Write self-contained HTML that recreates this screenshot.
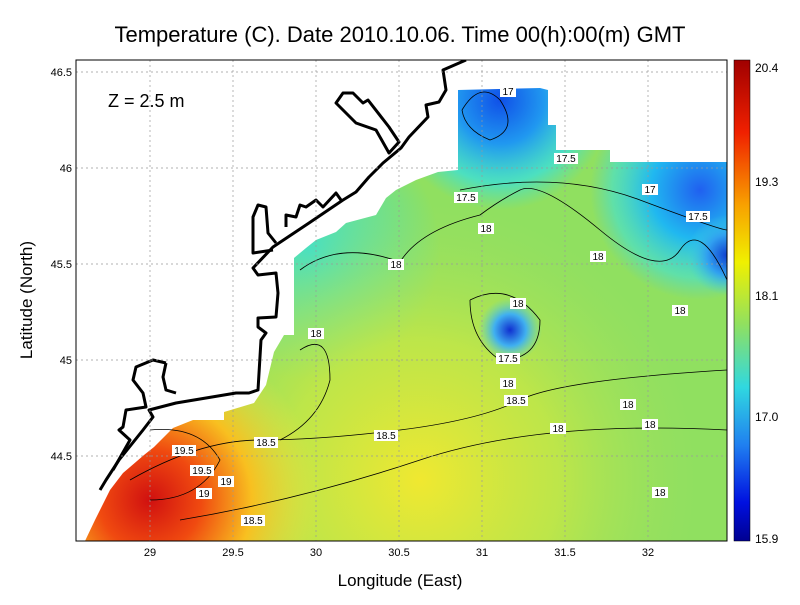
<!DOCTYPE html>
<html><head><meta charset="utf-8"><style>
body{margin:0;background:#fff;}
svg text{font-family:"Liberation Sans",sans-serif;}
</style></head><body>
<svg width="800" height="600" xmlns="http://www.w3.org/2000/svg">
<defs>
<radialGradient id="red" cx="150" cy="500" r="170" gradientUnits="userSpaceOnUse">
<stop offset="0" stop-color="#d01010"/><stop offset="0.3" stop-color="#f04a10"/><stop offset="0.6" stop-color="#f8c020"/><stop offset="1" stop-color="#f0e040" stop-opacity="0"/>
</radialGradient>
<radialGradient id="yel" cx="420" cy="480" r="280" gradientUnits="userSpaceOnUse">
<stop offset="0" stop-color="#f0e830"/><stop offset="0.5" stop-color="#d0e840" stop-opacity="0.7"/><stop offset="1" stop-color="#a0e060" stop-opacity="0"/>
</radialGradient>
<radialGradient id="blueTop" cx="500" cy="100" r="110" gradientUnits="userSpaceOnUse">
<stop offset="0" stop-color="#1050e8"/><stop offset="0.4" stop-color="#2098f0"/><stop offset="0.75" stop-color="#30e0e8" stop-opacity="0.7"/><stop offset="1" stop-color="#40e0d0" stop-opacity="0"/>
</radialGradient>
<radialGradient id="blueR" cx="700" cy="190" r="110" gradientUnits="userSpaceOnUse">
<stop offset="0" stop-color="#2060f0"/><stop offset="0.45" stop-color="#20b8f0"/><stop offset="0.8" stop-color="#40e0d8" stop-opacity="0.6"/><stop offset="1" stop-color="#50d0d0" stop-opacity="0"/>
</radialGradient>
<radialGradient id="blueR2" cx="727" cy="255" r="40" gradientUnits="userSpaceOnUse">
<stop offset="0" stop-color="#1040d0"/><stop offset="0.5" stop-color="#30a0f0"/><stop offset="1" stop-color="#40d0e0" stop-opacity="0"/>
</radialGradient>
<radialGradient id="blueC" cx="510" cy="330" r="32" gradientUnits="userSpaceOnUse">
<stop offset="0" stop-color="#1030d0"/><stop offset="0.5" stop-color="#40b0f0"/><stop offset="1" stop-color="#60d8c0" stop-opacity="0"/>
</radialGradient>
<radialGradient id="west" cx="310" cy="250" r="130" gradientUnits="userSpaceOnUse">
<stop offset="0" stop-color="#30e0e0" stop-opacity="0.85"/><stop offset="0.5" stop-color="#40e0d0" stop-opacity="0.5"/><stop offset="1" stop-color="#30e0e0" stop-opacity="0"/>
</radialGradient>
<linearGradient id="cb" x1="0" y1="0" x2="0" y2="1">
<stop offset="0" stop-color="#a00000"/><stop offset="0.15" stop-color="#f02000"/><stop offset="0.3" stop-color="#f8a000"/><stop offset="0.42" stop-color="#f0f000"/><stop offset="0.55" stop-color="#90e060"/><stop offset="0.68" stop-color="#30d8e0"/><stop offset="0.8" stop-color="#2080f0"/><stop offset="0.92" stop-color="#0010e0"/><stop offset="1" stop-color="#000090"/>
</linearGradient>
<clipPath id="pc"><rect x="76" y="60" width="651" height="481"/></clipPath>
</defs>
<text x="400" y="42" font-size="22" text-anchor="middle">Temperature (C). Date 2010.10.06. Time 00(h):00(m) GMT</text>
<g clip-path="url(#pc)">
<rect x="76" y="60" width="651" height="481" fill="#90e060"/>
<rect x="76" y="60" width="651" height="481" fill="url(#west)"/>
<rect x="76" y="60" width="651" height="481" fill="url(#yel)"/>
<rect x="76" y="60" width="651" height="481" fill="url(#red)"/>
<rect x="76" y="60" width="651" height="481" fill="url(#blueTop)"/>
<rect x="76" y="60" width="651" height="481" fill="url(#blueR)"/>
<rect x="76" y="60" width="651" height="481" fill="url(#blueR2)"/>
<rect x="76" y="60" width="651" height="481" fill="url(#blueC)"/>
<polygon fill="#fff" points="76,60 727,60 727,162 610,162 610,150 556,150 556,125 548,125 548,90 540,88 458,90 458,77 458,170 438,172 416,180 396,190 386,198 376,215 346,223 336,232 316,240 306,248 294,258 294,335 284,335 274,352 266,385 254,403 224,412 224,420 193,420 173,428 164,437 154,447 144,455 123,473 110,490 95,520 85,541 76,541"/>
<g stroke="#000" stroke-width="3" fill="none" stroke-linejoin="round">
<polyline points="466,60 443,70 446,90 439,102 426,105 428,117 409,137 401,148 383,163 369,177 356,192 343,200 309,223 273,247 253,268 258,275 276,273 278,293 276,317 258,318 258,327 266,333 261,340 258,390 249,393 236,393 176,403 149,410 153,417 143,430 119,460 106,480 100,490"/>
<polygon points="336,103 343,93 353,93 363,103 368,100 389,127 399,142 389,153 376,130 356,123"/>
<polyline points="273,250 253,253 253,217 258,205 266,207 268,233 276,243"/>
<polyline points="286,227 286,215 296,217 300,205 306,207 316,200 323,207 336,193 341,200"/>
<polyline points="166,363 153,360 136,367 133,380 143,393 146,407 126,410 123,427 119,430 130,440 113,470"/>
<polyline points="166,363 163,377 166,390 176,393"/>
</g>
<g stroke="#000" stroke-width="0.8" fill="none">
<path d="M130,480 Q200,440 260,440 T400,430 T520,400 T727,370"/>
<path d="M300,270 Q340,240 400,262 Q420,230 480,215 Q500,200 520,190 T600,230 T680,250 T727,280"/>
<path d="M460,190 Q560,170 640,200 T727,230"/>
<path d="M470,300 Q510,280 540,320 Q540,360 500,360 Q470,340 470,300"/>
<path d="M180,520 Q300,500 420,460 T727,430"/>
<path d="M462,110 Q480,80 500,100 Q520,130 490,140 Q465,130 462,110"/>
<path d="M300,350 Q330,330 330,380 Q320,420 280,440"/>
<path d="M150,430 Q200,425 220,460 Q200,500 150,500"/>
</g>
</g>
<g stroke="#999" stroke-width="0.7" stroke-dasharray="2,3">
<line x1="150" y1="60" x2="150" y2="541"/><line x1="233" y1="60" x2="233" y2="541"/><line x1="316" y1="60" x2="316" y2="541"/><line x1="399" y1="60" x2="399" y2="541"/><line x1="482" y1="60" x2="482" y2="541"/><line x1="565" y1="60" x2="565" y2="541"/><line x1="648" y1="60" x2="648" y2="541"/>
<line x1="76" y1="72" x2="727" y2="72"/><line x1="76" y1="168" x2="727" y2="168"/><line x1="76" y1="264" x2="727" y2="264"/><line x1="76" y1="360" x2="727" y2="360"/><line x1="76" y1="456" x2="727" y2="456"/>
</g>
<rect x="76" y="60" width="651" height="481" fill="none" stroke="#000"/>
<g font-size="11" fill="#000" text-anchor="middle">
<text x="150" y="556">29</text><text x="233" y="556">29.5</text><text x="316" y="556">30</text><text x="399" y="556">30.5</text><text x="482" y="556">31</text><text x="565" y="556">31.5</text><text x="648" y="556">32</text>
</g>
<g font-size="11" fill="#000" text-anchor="end">
<text x="72" y="76">46.5</text><text x="72" y="172">46</text><text x="72" y="268">45.5</text><text x="72" y="364">45</text><text x="72" y="460">44.5</text>
</g>
<text x="400" y="586" font-size="17" text-anchor="middle">Longitude (East)</text>
<text x="32" y="300" font-size="17" text-anchor="middle" transform="rotate(-90 32 300)">Latitude (North)</text>
<text x="108" y="107" font-size="18">Z = 2.5 m</text>
<g font-size="10" text-anchor="middle">
<g fill="#fff"><rect x="500" y="86" width="16" height="11"/><rect x="554" y="153" width="24" height="11"/><rect x="454" y="192" width="24" height="11"/><rect x="642" y="184" width="16" height="11"/><rect x="686" y="211" width="24" height="11"/><rect x="478" y="223" width="16" height="11"/><rect x="590" y="251" width="16" height="11"/><rect x="388" y="259" width="16" height="11"/><rect x="510" y="298" width="16" height="11"/><rect x="672" y="305" width="16" height="11"/><rect x="308" y="328" width="16" height="11"/><rect x="496" y="353" width="24" height="11"/><rect x="500" y="378" width="16" height="11"/><rect x="504" y="395" width="24" height="11"/><rect x="620" y="399" width="16" height="11"/><rect x="642" y="419" width="16" height="11"/><rect x="550" y="423" width="16" height="11"/><rect x="374" y="430" width="24" height="11"/><rect x="254" y="437" width="24" height="11"/><rect x="172" y="445" width="24" height="11"/><rect x="190" y="465" width="24" height="11"/><rect x="218" y="476" width="16" height="11"/><rect x="196" y="488" width="16" height="11"/><rect x="652" y="487" width="16" height="11"/><rect x="241" y="515" width="24" height="11"/></g>
<text x="508" y="95">17</text><text x="566" y="162">17.5</text><text x="466" y="201">17.5</text><text x="650" y="193">17</text><text x="698" y="220">17.5</text><text x="486" y="232">18</text><text x="598" y="260">18</text><text x="396" y="268">18</text><text x="518" y="307">18</text><text x="680" y="314">18</text><text x="316" y="337">18</text><text x="508" y="362">17.5</text><text x="508" y="387">18</text><text x="516" y="404">18.5</text><text x="628" y="408">18</text><text x="650" y="428">18</text><text x="558" y="432">18</text><text x="386" y="439">18.5</text><text x="266" y="446">18.5</text><text x="184" y="454">19.5</text><text x="202" y="474">19.5</text><text x="226" y="485">19</text><text x="204" y="497">19</text><text x="660" y="496">18</text><text x="253" y="524">18.5</text>
</g>
<rect x="734" y="60" width="16" height="481" fill="url(#cb)" stroke="#000" stroke-width="0.5"/>
<g font-size="12" fill="#000">
<text x="755" y="72">20.4</text><text x="755" y="186">19.3</text><text x="755" y="300">18.1</text><text x="755" y="421">17.0</text><text x="755" y="543">15.9</text>
</g>
</svg>
</body></html>
